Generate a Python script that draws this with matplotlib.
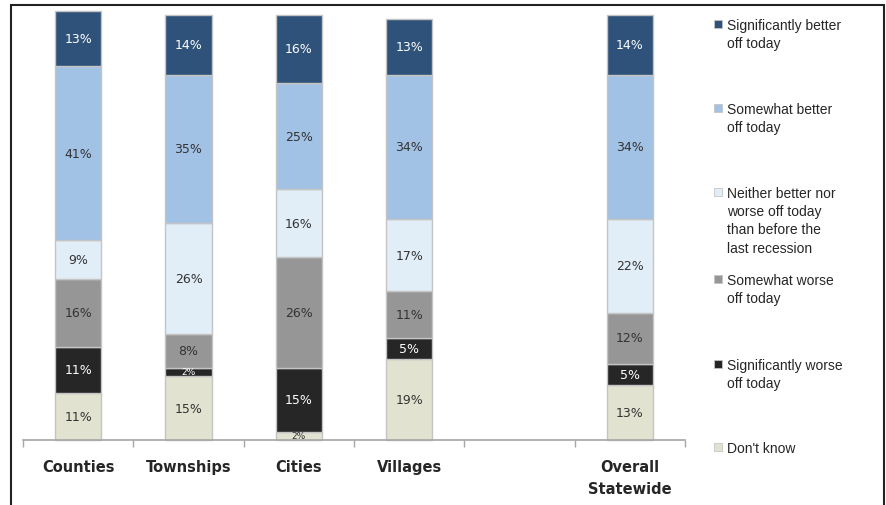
#!/usr/bin/env python3
"""
Stacked bar chart: how local governments are doing compared to before the last recession.
"""

import matplotlib
matplotlib.use('Agg')
import matplotlib.pyplot as plt
from matplotlib.patches import Rectangle
import numpy as np

categories = ['Counties', 'Townships', 'Cities', 'Villages', '', 'Overall\nStatewide']

series_names = [
	"Don't know",
	'Significantly worse\noff today',
	'Somewhat worse\noff today',
	'Neither better nor\nworse off today\nthan before the\nlast recession',
	'Somewhat better\noff today',
	'Significantly better\noff today',
]

# bottom to top; None for the empty slot
dont_know = [11, 15, 2, 19, None, 13]
sig_worse = [11, 2, 15, 5, None, 5]
some_worse = [16, 8, 26, 11, None, 12]
neither = [9, 26, 16, 17, None, 22]
some_better = [41, 35, 25, 34, None, 34]
sig_better = [13, 14, 16, 13, None, 14]

colors = ['#E2E2D0', '#262626', '#969696', '#E1EEF8', '#A2C2E5', '#2E5279']
text_colors = ['#333333', '#FFFFFF', '#333333', '#333333', '#333333', '#FFFFFF']


def main() -> None:
	fig = plt.figure(figsize=(8.87, 5.06), dpi=100)
	ax = fig.add_axes([23 / 887, 65 / 506, 662 / 887, 425 / 506])

	data = [dont_know, sig_worse, some_worse, neither, some_better, sig_better]
	x = np.arange(len(categories))
	keep = [i for i in x if dont_know[i] is not None]
	bottoms = np.zeros(len(keep))
	for vals, color, tcolor in zip(data, colors, text_colors):
		v = np.array([vals[i] for i in keep], dtype=float)
		ax.bar(keep, v, bottom=bottoms, width=0.42, color=color, edgecolor='#C4C4C4',
			   linewidth=1, clip_on=False)
		for xi, val, b in zip(keep, v, bottoms):
			if val < 5:
				ax.text(xi, b + val / 2, f'{val:.0f}%', ha='center', va='center',
						fontsize=6.5, color=tcolor, clip_on=False)
			else:
				ax.text(xi, b + val / 2, f'{val:.0f}%', ha='center', va='center',
						fontsize=9, color=tcolor)
		bottoms += v

	ax.set_xlim(-0.5, len(categories) - 0.5)
	ax.set_ylim(0, 100)
	ax.set_yticks([])
	for s in ['top', 'right', 'left']:
		ax.spines[s].set_visible(False)
	ax.spines['bottom'].set_color('#A6A6A6')
	ax.spines['bottom'].set_linewidth(1.2)

	ax.set_xticks(x)
	ax.set_xticklabels(categories, fontsize=10.5, fontweight='bold', color='#262626',
					   va='top', linespacing=1.6)
	ax.tick_params(axis='x', which='major', length=0, pad=13.5)
	ax.set_xticks(np.arange(-0.5, len(categories)), minor=True)
	ax.tick_params(axis='x', which='minor', length=5, color='#A6A6A6', width=1)

	# legend on the right
	legend_y = [25, 109, 193, 280, 365, 448]
	for i, yc in enumerate(legend_y):
		k = len(series_names) - 1 - i
		fig.patches.append(Rectangle((714 / 887, (506 - yc - 4) / 506), 8.5 / 887, 8.5 / 506,
									 transform=fig.transFigure, facecolor=colors[k],
									 edgecolor='#C4C4C4', linewidth=0.6))
		fig.text(727 / 887, (506 - yc + 6) / 506, series_names[k], ha='left', va='top',
				 fontsize=10, family='Liberation Sans', color='#262626', linespacing=1.38)

	# outer frame
	fig.patches.append(Rectangle((11 / 887, -0.02), 873 / 887, 1.0 - 6 / 506 + 0.02,
								 transform=fig.transFigure, fill=False,
								 edgecolor='#222222', linewidth=1.5))

	fig.savefig('out.png', dpi=100)


if __name__ == '__main__':
	main()
